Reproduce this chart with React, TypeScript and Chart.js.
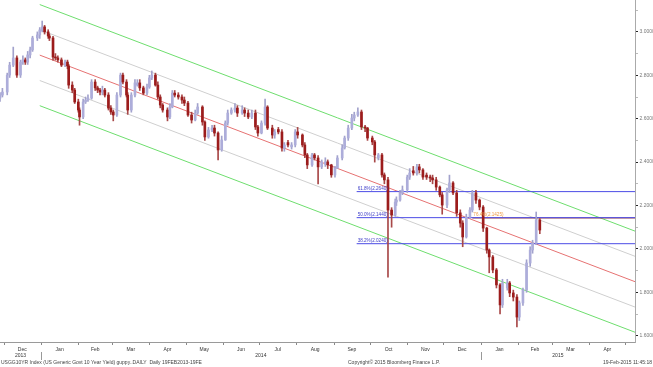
import React, { useEffect, useRef } from "react";
import { Chart, registerables } from "chart.js";

Chart.register(...registerables);

// Day offsets relative to 1 Jan 2014
const days = [
  -34, -32, -28, -26, -23, -20, -17, -15, -13, -11,
  -9, -7, -3, -1, 1, 3, 6, 7, 10, 12,
  14, 17, 20, 22, 23, 26, 28, 31, 32, 35,
  37, 39, 42, 45, 47, 49, 51, 53, 56, 58,
  60, 63, 66, 68, 71, 72, 75, 78, 80, 82,
  85, 88, 90, 92, 95, 97, 99, 101, 105, 107,
  109, 111, 114, 117, 119, 122, 125, 128, 130, 134,
  136, 139, 142, 144, 147, 150, 153, 155, 158, 161,
  163, 167, 169, 172, 175, 178, 180, 183, 186, 188,
  192, 194, 197, 200, 202, 205, 208, 211, 213, 217,
  219, 221, 225, 227, 230, 233, 236, 238, 241, 244,
  246, 250, 252, 255, 258, 260, 263, 266, 269, 271,
  275, 277, 280, 283, 285, 288, 291, 294, 295, 298,
  300, 304, 306, 309, 312, 314, 317, 320, 323, 325,
  328, 331, 333, 337, 339, 342, 345, 348, 350, 353,
  356, 358, 361, 364, 367, 370, 372, 375, 378, 381,
  383, 387, 389, 392, 395, 397, 400, 403, 406, 408,
  411, 414,
];

const opens = [
  2.695, 2.709, 2.723, 2.801, 2.847, 2.88, 2.801, 2.861, 2.871, 2.861,
  2.894, 2.917, 2.972, 2.986, 3.009, 3.023, 3.0, 2.981, 2.972, 2.884,
  2.88, 2.871, 2.847, 2.861, 2.843, 2.755, 2.732, 2.677, 2.64, 2.608,
  2.677, 2.686, 2.695, 2.769, 2.742, 2.732, 2.723, 2.732, 2.709, 2.649,
  2.631, 2.617, 2.709, 2.801, 2.769, 2.709, 2.64, 2.709, 2.755, 2.765,
  2.742, 2.718, 2.746, 2.788, 2.801, 2.755, 2.7, 2.663, 2.64, 2.608,
  2.654, 2.718, 2.709, 2.7, 2.686, 2.672, 2.617, 2.594, 2.626, 2.654,
  2.585, 2.516, 2.548, 2.557, 2.534, 2.456, 2.502, 2.58, 2.626, 2.64,
  2.649, 2.626, 2.64, 2.626, 2.608, 2.626, 2.562, 2.534, 2.58, 2.654,
  2.557, 2.525, 2.55, 2.539, 2.465, 2.49, 2.47, 2.479, 2.539, 2.525,
  2.479, 2.433, 2.387, 2.433, 2.419, 2.378, 2.39, 2.401, 2.387, 2.341,
  2.373, 2.419, 2.465, 2.511, 2.557, 2.603, 2.617, 2.631, 2.562, 2.557,
  2.511, 2.493, 2.42, 2.433, 2.341, 2.318, 2.179, 2.156, 2.216, 2.225,
  2.258, 2.272, 2.331, 2.36, 2.35, 2.378, 2.364, 2.34, 2.331, 2.327,
  2.318, 2.285, 2.249, 2.202, 2.272, 2.304, 2.258, 2.166, 2.119, 2.055,
  2.147, 2.179, 2.258, 2.225, 2.193, 2.096, 1.995, 1.963, 1.903, 1.834,
  1.742, 1.82, 1.843, 1.797, 1.778, 1.686, 1.751, 1.811, 1.935, 1.995,
  2.027, 2.133,
];

const highs = [
  2.72, 2.74, 2.81, 2.86, 2.93, 2.89, 2.87, 2.89, 2.88, 2.91,
  2.93, 2.98, 3.0, 3.02, 3.05, 3.03, 3.01, 2.99, 2.98, 2.9,
  2.89, 2.88, 2.87, 2.87, 2.85, 2.77, 2.74, 2.69, 2.65, 2.69,
  2.7, 2.71, 2.78, 2.78, 2.75, 2.74, 2.75, 2.74, 2.72, 2.66,
  2.64, 2.72, 2.81, 2.81, 2.78, 2.72, 2.72, 2.78, 2.78, 2.78,
  2.75, 2.76, 2.8, 2.82, 2.81, 2.77, 2.71, 2.67, 2.65, 2.67,
  2.73, 2.73, 2.72, 2.71, 2.7, 2.68, 2.63, 2.64, 2.67, 2.66,
  2.59, 2.56, 2.57, 2.57, 2.54, 2.52, 2.59, 2.64, 2.65, 2.67,
  2.66, 2.66, 2.65, 2.64, 2.64, 2.64, 2.57, 2.59, 2.69, 2.66,
  2.57, 2.55, 2.56, 2.55, 2.49, 2.5, 2.49, 2.55, 2.56, 2.53,
  2.49, 2.44, 2.44, 2.44, 2.43, 2.41, 2.42, 2.41, 2.39, 2.38,
  2.43, 2.48, 2.52, 2.57, 2.62, 2.63, 2.65, 2.64, 2.57, 2.56,
  2.52, 2.5, 2.44, 2.44, 2.35, 2.33, 2.19, 2.23, 2.24, 2.27,
  2.29, 2.34, 2.37, 2.38, 2.39, 2.39, 2.37, 2.35, 2.34, 2.34,
  2.33, 2.29, 2.26, 2.28, 2.34, 2.31, 2.27, 2.18, 2.13, 2.16,
  2.19, 2.27, 2.27, 2.23, 2.2, 2.1, 2.0, 1.97, 1.91, 1.84,
  1.86, 1.86, 1.85, 1.81, 1.79, 1.76, 1.82, 1.95, 2.01, 2.04,
  2.17, 2.14,
];

const lows = [
  2.68, 2.7, 2.71, 2.79, 2.84, 2.79, 2.79, 2.85, 2.85, 2.85,
  2.88, 2.91, 2.96, 2.97, 3.0, 2.99, 2.97, 2.96, 2.87, 2.87,
  2.86, 2.84, 2.84, 2.83, 2.74, 2.72, 2.67, 2.63, 2.57, 2.6,
  2.67, 2.68, 2.69, 2.73, 2.72, 2.71, 2.71, 2.7, 2.64, 2.62,
  2.59, 2.61, 2.7, 2.76, 2.7, 2.62, 2.63, 2.7, 2.75, 2.73,
  2.71, 2.71, 2.74, 2.78, 2.75, 2.69, 2.65, 2.63, 2.59, 2.6,
  2.65, 2.7, 2.69, 2.67, 2.66, 2.61, 2.58, 2.59, 2.62, 2.57,
  2.5, 2.51, 2.54, 2.52, 2.41, 2.45, 2.5, 2.57, 2.62, 2.63,
  2.61, 2.62, 2.61, 2.6, 2.6, 2.55, 2.52, 2.53, 2.57, 2.55,
  2.51, 2.51, 2.53, 2.45, 2.45, 2.47, 2.46, 2.47, 2.51, 2.47,
  2.42, 2.37, 2.38, 2.41, 2.3, 2.37, 2.38, 2.37, 2.33, 2.33,
  2.37, 2.41, 2.46, 2.5, 2.55, 2.59, 2.61, 2.55, 2.54, 2.5,
  2.48, 2.4, 2.41, 2.33, 2.3, 1.87, 2.1, 2.15, 2.2, 2.22,
  2.25, 2.26, 2.32, 2.34, 2.34, 2.35, 2.32, 2.32, 2.31, 2.3,
  2.27, 2.24, 2.16, 2.19, 2.26, 2.25, 2.15, 2.1, 2.01, 2.05,
  2.14, 2.17, 2.21, 2.18, 2.08, 1.98, 1.89, 1.89, 1.82, 1.7,
  1.73, 1.81, 1.78, 1.76, 1.64, 1.67, 1.74, 1.8, 1.92, 1.98,
  2.02, 2.07,
];

const closes = [
  2.709, 2.723, 2.801, 2.847, 2.88, 2.801, 2.861, 2.871, 2.861, 2.894,
  2.917, 2.972, 2.986, 3.009, 3.023, 3.0, 2.981, 2.972, 2.884, 2.88,
  2.871, 2.847, 2.861, 2.843, 2.755, 2.732, 2.677, 2.64, 2.608, 2.677,
  2.686, 2.695, 2.769, 2.742, 2.732, 2.723, 2.732, 2.709, 2.649, 2.631,
  2.617, 2.709, 2.801, 2.769, 2.709, 2.64, 2.709, 2.765, 2.765, 2.742,
  2.718, 2.746, 2.788, 2.801, 2.755, 2.7, 2.663, 2.64, 2.608, 2.654,
  2.718, 2.709, 2.7, 2.686, 2.672, 2.617, 2.594, 2.626, 2.654, 2.585,
  2.516, 2.548, 2.557, 2.534, 2.456, 2.502, 2.58, 2.626, 2.64, 2.649,
  2.626, 2.64, 2.626, 2.608, 2.626, 2.562, 2.534, 2.58, 2.654, 2.557,
  2.525, 2.539, 2.539, 2.465, 2.479, 2.479, 2.479, 2.539, 2.525, 2.479,
  2.433, 2.387, 2.433, 2.419, 2.378, 2.401, 2.401, 2.387, 2.341, 2.373,
  2.419, 2.465, 2.511, 2.557, 2.603, 2.617, 2.631, 2.562, 2.557, 2.511,
  2.493, 2.433, 2.433, 2.341, 2.318, 2.179, 2.156, 2.216, 2.225, 2.258,
  2.272, 2.331, 2.35, 2.35, 2.378, 2.364, 2.331, 2.331, 2.327, 2.318,
  2.285, 2.249, 2.202, 2.272, 2.304, 2.258, 2.166, 2.119, 2.055, 2.147,
  2.179, 2.258, 2.225, 2.193, 2.096, 1.995, 1.963, 1.903, 1.834, 1.742,
  1.843, 1.843, 1.797, 1.778, 1.686, 1.751, 1.811, 1.935, 1.995, 2.027,
  2.133, 2.087,
];

// Regression channel (start/end days, values)
const channelDays = [-1, 493];
const channelUpper2 = [3.126, 2.082];
const channelUpper1 = [3.01, 1.966];
const channelMid = [2.893, 1.849];
const channelLower1 = [2.776, 1.732];
const channelLower2 = [2.66, 1.616];

// Fibonacci retracement
const fibDays = [262, 493];
const fibLevels = [2.264, 2.144, 2.024];
const fibLabels = ["61.8%(2.2640)", "50.0%(2.1440)", "38.2%(2.0240)"];
const extDays = [358, 493];
const extLevel = 2.1425;
const extLabel = "76.4%(2.1425)";

// Axes
const monthLabels = ["Dec", "Jan", "Feb", "Mar", "Apr", "May", "Jun", "Jul", "Aug", "Sep", "Oct", "Nov", "Dec", "Jan", "Feb", "Mar", "Apr"];
const yearLabels = ["2013", "2014", "2015"];
const yTicks = [1.6, 1.7, 1.8, 1.9, 2.0, 2.1, 2.2, 2.3, 2.4, 2.5, 2.6, 2.7, 2.8, 2.9, 3.0, 3.1];
const X_MIN = -34;
const X_MAX = 493;
const Y_MIN = 1.571;
const Y_MAX = 3.147;

const footerLeft = "USGG10YR Index (US Generic Govt 10 Year Yield) guppy..DAILY  Daily 19FEB2013-19FE";
const footerMid = "Copyright\u00A9 2015 Bloomberg Finance L.P.";
const footerRight = "19-Feb-2015 11:45:18";

const FONT = '"Liberation Sans", Arial, sans-serif';

const dayOf = (y: number, m: number) => (Date.UTC(y, m, 1) - Date.UTC(2014, 0, 1)) / 86400000;
const isMajor = (v: number) => Math.abs(v * 5 - Math.round(v * 5)) < 1e-6;

export default function App() {
  const ref = useRef<HTMLCanvasElement>(null);

  useEffect(() => {
    const canvas = ref.current;
    if (!canvas) return;
    const isUp = (i: number) => closes[i] >= opens[i];

    const line = (ys: number[], xs: number[], color: string, order: number) => ({
      type: "line" as const,
      data: xs.map((x, i) => ({ x, y: ys[i] })),
      borderColor: color,
      borderWidth: 1,
      pointRadius: 0,
      fill: false,
      tension: 0,
      order,
    });

    const textPlugin = {
      id: "bbgText",
      afterDraw(chart: any) {
        const { ctx, chartArea, scales } = chart;
        const x = scales.x;
        const y = scales.y;
        const bottom = chartArea.bottom;
        ctx.save();
        // fib labels
        ctx.font = `4.6px ${FONT}`;
        ctx.textAlign = "left";
        ctx.textBaseline = "alphabetic";
        ctx.fillStyle = "#3e3ec8";
        fibLevels.forEach((lv, i) => {
          ctx.fillText(fibLabels[i], x.getPixelForValue(fibDays[0]) + 1, y.getPixelForValue(lv) - 1.5);
        });
        ctx.fillStyle = "#ee9a44";
        ctx.fillText(extLabel, x.getPixelForValue(extDays[0]) + 1, y.getPixelForValue(extLevel) - 1.5);

        // month boundaries & labels
        const starts: number[] = [];
        for (let i = 0; i <= monthLabels.length; i++) starts.push(dayOf(2013, 11 + i));
        ctx.strokeStyle = "#888";
        ctx.lineWidth = 1;
        starts.forEach((s) => {
          if (s < X_MIN || s > X_MAX) return;
          const px = Math.round(x.getPixelForValue(s)) + 0.5;
          ctx.beginPath();
          ctx.moveTo(px, bottom + 1);
          ctx.lineTo(px, bottom + 3);
          ctx.stroke();
        });
        ctx.font = `5px ${FONT}`;
        ctx.fillStyle = "#333";
        ctx.textAlign = "center";
        ctx.textBaseline = "middle";
        monthLabels.forEach((m, i) => {
          const px = x.getPixelForValue((starts[i] + starts[i + 1]) / 2);
          ctx.fillText(m, px, bottom + 7.5);
        });
        // years
        const yb = [X_MIN, dayOf(2014, 0), dayOf(2015, 0), X_MAX];
        yearLabels.forEach((yl, i) => {
          const px = (x.getPixelForValue(yb[i]) + x.getPixelForValue(yb[i + 1])) / 2;
          ctx.fillText(yl, px, bottom + 14);
        });
        ctx.strokeStyle = "#999";
        [yb[1], yb[2]].forEach((s) => {
          const px = Math.round(x.getPixelForValue(s)) + 0.5;
          ctx.beginPath();
          ctx.moveTo(px, bottom + 10);
          ctx.lineTo(px, bottom + 18);
          ctx.stroke();
        });
        // footer
        ctx.fillStyle = "#444";
        ctx.textAlign = "left";
        ctx.fillText(footerLeft, 1, 362.5);
        ctx.textAlign = "center";
        ctx.fillText(footerMid, 394, 362.5);
        ctx.textAlign = "right";
        ctx.fillText(footerRight, 652, 362.5);
        ctx.restore();
      },
    };

    const chart = new Chart(canvas, {
      type: "bar",
      data: {
        datasets: [
          {
            type: "bar",
            data: days.map((d, i) => ({ x: d, y: [opens[i], closes[i]] })) as any,
            backgroundColor: (c: any) => (isUp(c.dataIndex) ? "#adadda" : "#9c1c1c"),
            barThickness: 2,
            minBarLength: 1,
            grouped: false,
            order: 0,
          },
          {
            type: "bar",
            data: days.map((d, i) => ({ x: d, y: [lows[i], highs[i]] })) as any,
            backgroundColor: (c: any) => (isUp(c.dataIndex) ? "#a2a2cc" : "#a84848"),
            barThickness: 1,
            grouped: false,
            order: 1,
          },
          line(channelUpper2, channelDays, "#6ede6e", 3),
          line(channelUpper1, channelDays, "#cfcfcf", 3),
          line(channelMid, channelDays, "#e67272", 3),
          line(channelLower1, channelDays, "#cfcfcf", 3),
          line(channelLower2, channelDays, "#6ede6e", 3),
          line([fibLevels[0], fibLevels[0]], fibDays, "#4c4ce6", 2),
          line([fibLevels[1], fibLevels[1]], fibDays, "#4c4ce6", 2),
          line([fibLevels[2], fibLevels[2]], fibDays, "#4c4ce6", 2),
          line([extLevel, extLevel], extDays, "#9a3c38", 2),
        ] as any,
      },
      options: {
        responsive: false,
        animation: false,
        devicePixelRatio: 1,
        layout: { padding: 0 },
        plugins: { legend: { display: false }, tooltip: { enabled: false } },
        scales: {
          x: {
            type: "linear",
            min: X_MIN,
            max: X_MAX,
            offset: false,
            ticks: { display: false },
            grid: { display: false },
            border: { display: true, color: "#9a9a9a" },
            afterFit: (s: any) => {
              s.height = 25;
              s.paddingLeft = 0;
              s.paddingRight = 0;
            },
          },
          y: {
            type: "linear",
            position: "right",
            min: Y_MIN,
            max: Y_MAX,
            beginAtZero: false,
            afterBuildTicks: (s: any) => {
              s.ticks = yTicks.map((v) => ({ value: v }));
            },
            afterFit: (s: any) => {
              s.width = 18;
              s.paddingTop = 0;
              s.paddingBottom = 0;
            },
            ticks: {
              callback: (v: any) => (isMajor(Number(v)) ? Number(v).toFixed(4) : ""),
              font: { family: "Liberation Sans", size: 5 },
              color: "#777",
              padding: 1.5,
              autoSkip: false,
              maxRotation: 0,
            },
            grid: {
              drawOnChartArea: false,
              tickLength: 3,
              color: (c: any) => (c.tick && isMajor(c.tick.value) ? "#222" : "#bbb"),
            },
            border: { display: true, color: "#aaa" },
          },
        },
      } as any,
      plugins: [textPlugin],
    });
    return () => chart.destroy();
  }, []);

  return (
    <div style={{ position: "fixed", left: 0, top: 0, width: 653, height: 367, background: "#fff" }}>
      <canvas ref={ref} width={653} height={367} style={{ display: "block" }} />
    </div>
  );
}
